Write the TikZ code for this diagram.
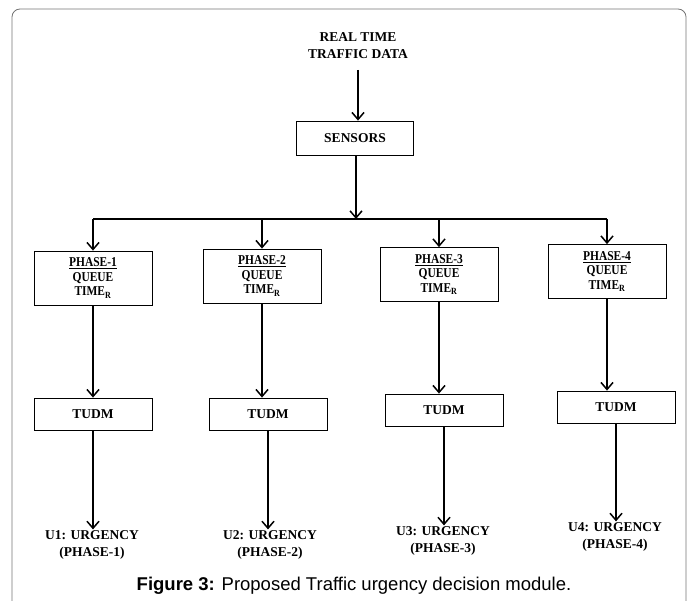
\documentclass[tikz,border=0pt]{standalone}
\usepackage{fontspec}
\setmainfont{Liberation Serif}
\newfontfamily\capfont{Liberation Sans}
\newfontfamily\narrowfont{Liberation Serif}[FakeStretch=0.85]
\usetikzlibrary{arrows.meta}

\tikzset{
	box/.style={draw, line width=0.8pt, minimum width=118pt, inner sep=0pt, align=center, font=\bfseries\fontsize{13.5}{16}\selectfont},
	phasebox/.style={box, minimum height=54pt, font=\narrowfont\bfseries\fontsize{13.5}{14.5}\selectfont},
	tudmbox/.style={box, minimum height=32pt},
	plain/.style={align=center, inner sep=1pt, font=\bfseries\fontsize{13.5}{17}\selectfont},
	flow/.style={line width=1.8pt, -{Straight Barb[length=7pt,width=12pt,line width=1.5pt]}}
}

\begin{document}
\begin{tikzpicture}[x=1pt, y=-1pt]
			%%%%% START %%%%%
			
			\clip (0, 0) rectangle (695, 601);
			\draw[black!55, line width=0.8pt, rounded corners=8pt] (12, 9) rectangle (686, 650);
			
			\node[plain] (data) at (358, 46) {REAL TIME\\TRAFFIC DATA};
			\node[box, minimum width=117pt, minimum height=34pt] (sensors) at (355, 138) {SENSORS};
			\coordinate (bus) at (356, 219);
			
			\node[phasebox] (p1) at (93, 278) {\underline{PHASE-1}\\QUEUE\\TIME\textsubscript{R}};
			\node[phasebox] (p2) at (262, 276) {\underline{PHASE-2}\\QUEUE\\TIME\textsubscript{R}};
			\node[phasebox] (p3) at (439, 274.5) {\underline{PHASE-3}\\QUEUE\\TIME\textsubscript{R}};
			\node[phasebox] (p4) at (607, 271.5) {\underline{PHASE-4}\\QUEUE\\TIME\textsubscript{R}};
			
			\node[tudmbox] (t1) at (93, 414) {TUDM};
			\node[tudmbox] (t2) at (268, 414) {TUDM};
			\node[tudmbox] (t3) at (444, 410) {TUDM};
			\node[tudmbox] (t4) at (616, 407) {TUDM};
			
			\node[plain] (u1) at (92, 545) {U1: URGENCY\\(PHASE-1)};
			\node[plain] (u2) at (270, 545) {U2: URGENCY\\(PHASE-2)};
			\node[plain] (u3) at (443, 541) {U3: URGENCY\\(PHASE-3)};
			\node[plain] (u4) at (615, 537) {U4: URGENCY\\(PHASE-4)};
			
			\draw[flow] (data.south |- 0, 70) -- (sensors.north -| data.south);
			\draw[flow] (sensors.south -| bus) -- (bus);
			\draw[line width=1.8pt] (p1.north |- bus) -- (p4.north |- bus);
			
			\draw[flow] (p1.north |- bus) -- (p1.north);
			\draw[flow] (p2.north |- bus) -- (p2.north);
			\draw[flow] (p3.north |- bus) -- (p3.north);
			\draw[flow] (p4.north |- bus) -- (p4.north);
			
			\draw[flow] (p1.south) -- (p1.south |- t1.north);
			\draw[flow] (p2.south) -- (p2.south |- t2.north);
			\draw[flow] (p3.south) -- (p3.south |- t3.north);
			\draw[flow] (p4.south) -- (p4.south |- t4.north);
			
			\draw[flow] (t1.south) -- (t1.south |- u1.north);
			\draw[flow] (t2.south) -- (t2.south |- u2.north);
			\draw[flow] (t3.south) -- (t3.south |- u3.north);
			\draw[flow] (t4.south) -- (t4.south |- u4.north);
			
			\node[font=\capfont\fontsize{18.5}{20}\selectfont] (caption) at (354, 586) {\textbf{Figure 3:} Proposed Traffic urgency decision module.};
			
			%%%%% END %%%%%
		\end{tikzpicture}
\end{document}
